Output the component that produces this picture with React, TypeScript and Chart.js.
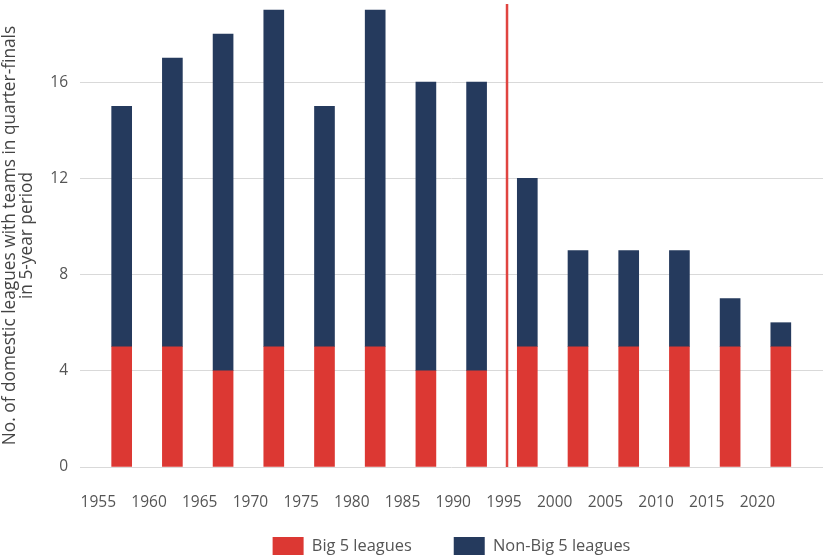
import { useEffect, useRef } from "react";
import { Chart, registerables } from "chart.js";

Chart.register(...registerables);

// Mid-points of the 5-year periods (1955-59, 1960-64, ...)
const periodMid = [1957.5, 1962.5, 1967.5, 1972.5, 1977.5, 1982.5, 1987.5, 1992.5, 1997.5, 2002.5, 2007.5, 2012.5, 2017.5, 2022.5];
const big5 = [5, 5, 4, 5, 5, 5, 4, 4, 5, 5, 5, 5, 5, 5];
const nonBig5 = [10, 12, 14, 14, 10, 14, 12, 12, 7, 4, 4, 4, 2, 1];
const xTickYears = [1955, 1960, 1965, 1970, 1975, 1980, 1985, 1990, 1995, 2000, 2005, 2010, 2015, 2020];
const yTickValues = [0, 4, 8, 12, 16];
const markerYear = 1995.5;

const seriesLabels = ["Big 5 leagues", "Non-Big 5 leagues"];
const yTitle = ["No. of domestic leagues with teams in quarter-finals", "in 5-year period"];

const RED = "#dc3833";
const NAVY = "#253a5d";
const FONT = "'Open Sans'";

const markerPlugin = {
  id: "marker",
  afterDatasetsDraw(chart: any) {
    const { ctx, chartArea, scales } = chart;
    const x = scales.x.getPixelForValue(markerYear);
    ctx.save();
    ctx.strokeStyle = "#e04440";
    ctx.lineWidth = 2.5;
    ctx.beginPath();
    ctx.moveTo(x, chartArea.top);
    ctx.lineTo(x, chartArea.bottom);
    ctx.stroke();
    ctx.restore();
  },
};

export default function App() {
  const ref = useRef<HTMLCanvasElement | null>(null);

  useEffect(() => {
    if (!ref.current) return;
    const chart = new Chart(ref.current, {
      type: "bar",
      data: {
        datasets: [
          {
            label: seriesLabels[0],
            data: periodMid.map((x, i) => ({ x, y: big5[i] })),
            backgroundColor: RED,
            borderWidth: 0,
            stack: "total",
            barThickness: 20,
          },
          {
            label: seriesLabels[1],
            data: periodMid.map((x, i) => ({ x, y: nonBig5[i] })),
            backgroundColor: NAVY,
            borderWidth: 0,
            stack: "total",
            barThickness: 20,
          },
        ],
      },
      options: {
        animation: false,
        responsive: true,
        maintainAspectRatio: false,
        layout: { padding: { top: 4, right: 2, left: 0, bottom: 0 } },
        scales: {
          x: {
            type: "linear",
            offset: false,
            min: 1953.39,
            max: 2026.66,
            grid: { display: false, offset: false },
            border: { display: false },
            afterBuildTicks: (scale: any) => {
              scale.ticks = xTickYears.map((v) => ({ value: v }));
            },
            afterFit: (scale: any) => {
              scale.height = 28;
              scale.paddingLeft = 0;
              scale.paddingRight = 0;
            },
            ticks: {
              mirror: true,
              padding: -45,
              labelOffset: 2,
              maxRotation: 0,
              autoSkip: false,
              color: "#555",
              font: { family: FONT, size: 15.5 },
              callback: (v: any) => String(v),
            },
          },
          y: {
            stacked: true,
            min: 0,
            max: 19.25,
            grid: { color: "#d9d9d9", lineWidth: 1, drawTicks: false },
            border: { display: false },
            afterBuildTicks: (scale: any) => {
              scale.ticks = yTickValues.map((v) => ({ value: v }));
            },
            afterFit: (scale: any) => {
              scale.width = 80;
              scale.paddingTop = 0;
              scale.paddingBottom = 0;
            },
            ticks: {
              padding: 12,
              color: "#555",
              font: { family: FONT, size: 15.5 },
              callback: (v: any) => String(v),
            },
            title: {
              display: true,
              text: yTitle,
              color: "#444",
              font: { family: FONT, size: 17.3, lineHeight: 1 },
              padding: { top: 1.5, bottom: 0 },
            },
          },
        },
        plugins: {
          legend: {
            position: "bottom",
            fullSize: false,
            maxHeight: 65,
            labels: {
              boxWidth: 31,
              boxHeight: 18,
              padding: 42,
              color: "#555",
              font: { family: FONT, size: 16.4 },
            },
          },
          tooltip: { enabled: false },
        },
      },
      plugins: [markerPlugin],
    } as any);
    return () => chart.destroy();
  }, []);

  return (
    <div style={{ position: "absolute", left: 0, top: 0, width: 825, height: 560 }}>
      <canvas ref={ref} />
    </div>
  );
}
